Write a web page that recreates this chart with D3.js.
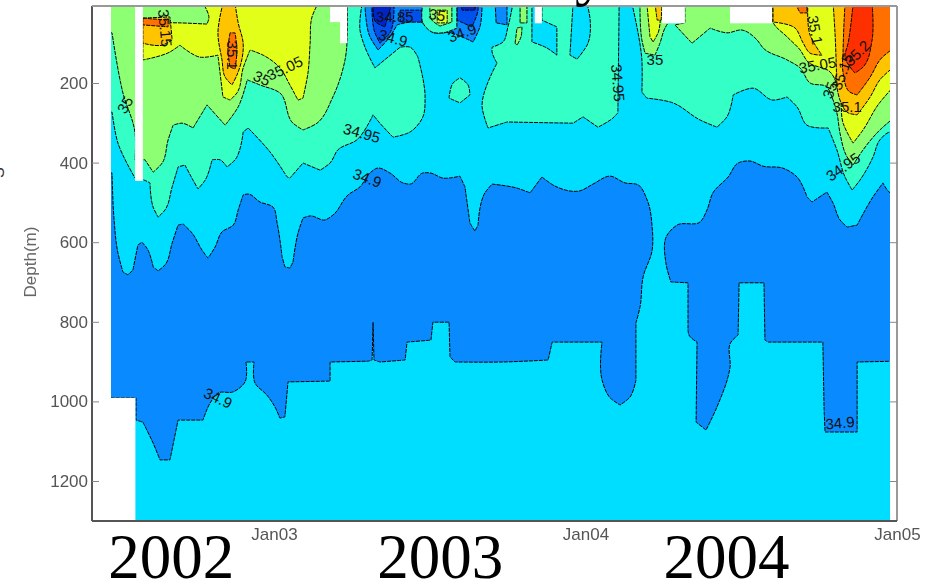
<!DOCTYPE html>
<html>
<head>
<meta charset="utf-8">
<script src="https://cdn.jsdelivr.net/npm/d3@7"></script>
<style>
  html, body { margin: 0; padding: 0; background: #fff; overflow: hidden; }
  svg { display: block; }
</style>
</head>
<body>
<div id="chart"></div>
<script>
// time is in years since Jan 2002, depth in metres
var depthTicks = [200, 400, 600, 800, 1000, 1200];
var timeTicks = [1, 2, 3];
var timeTickLabels = ["Jan03", "Jan04", "Jan05"];
var yearLabels = ["2002", "2003", "2004"];
var yearLabelTimes = [0.670, 1.534, 2.453];

var blueMain = [[.457,426],[.480,426],[.486,537],[.499,627],[.515,675],[.531,682],[.547,670],[.563,607],[.576,600],[.592,615],[.612,662],[.628,672],[.650,657],[.673,602],[.692,557],[.708,554],[.737,577],[.769,620],[.788,640],[.811,612],[.833,574],[.869,557],[.885,519],[.901,481],[.917,479],[.955,499],[.997,512],[1.010,552],[1.026,637],[1.035,662],[1.051,665],[1.061,650],[1.077,577],[1.093,539],[1.116,534],[1.164,544],[1.189,532],[1.238,481],[1.276,461],[1.308,426],[1.331,414],[1.372,426],[1.414,451],[1.437,454],[1.478,426],[1.501,426],[1.543,439],[1.597,434],[1.613,461],[1.629,552],[1.645,572],[1.655,557],[1.677,476],[1.700,454],[1.780,464],[1.822,476],[1.860,436],[1.902,459],[1.982,471],[2.024,454],[2.079,434],[2.127,451],[2.169,456],[2.198,494],[2.214,562],[2.214,620],[2.185,687],[2.175,763],[2.162,803],[2.162,946],[2.143,989],[2.111,1009],[2.079,991],[2.053,946],[2.053,851],[1.893,851],[1.880,896],[1.735,901],[1.581,901],[1.565,888],[1.562,801],[1.510,801],[1.504,846],[1.427,851],[1.421,896],[1.340,901],[1.321,896],[1.318,801],[1.315,896],[1.302,899],[1.180,901],[1.180,949],[1.045,951],[1.035,1039],[1.019,1042],[1.003,1014],[.977,984],[.939,954],[.936,901],[.910,901],[.907,951],[.869,976],[.820,979],[.795,1004],[.772,1047],[.692,1047],[.666,1147],[.634,1147],[.612,1105],[.579,1052],[.557,1047],[.557,991],[.457,991]];
var blueRight = [[2.994,481],[2.978,476],[2.955,451],[2.923,486],[2.872,557],[2.840,562],[2.817,544],[2.795,502],[2.775,474],[2.727,499],[2.711,486],[2.679,436],[2.634,414],[2.570,409],[2.528,396],[2.490,401],[2.458,436],[2.409,476],[2.390,519],[2.368,549],[2.294,557],[2.262,582],[2.258,652],[2.274,700],[2.329,702],[2.329,821],[2.332,833],[2.358,851],[2.355,1052],[2.387,1072],[2.422,1014],[2.464,914],[2.467,851],[2.490,833],[2.493,702],[2.573,702],[2.576,846],[2.586,851],[2.762,851],[2.766,1022],[2.769,1077],[2.872,1077],[2.872,901],[2.994,899]];

var mintLeft = [[.457,0],[.457,273],[.480,273],[.499,351],[.554,439],[.583,444],[.602,451],[.612,512],[.628,537],[.650,519],[.673,461],[.692,411],[.714,406],[.740,444],[.756,466],[.779,444],[.801,393],[.827,393],[.849,411],[.875,393],[.901,323],[.917,313],[.987,373],[1.042,436],[1.051,439],[1.093,401],[1.148,419],[1.180,401],[1.205,368],[1.266,343],[1.318,280],[1.340,301],[1.382,336],[1.437,323],[1.478,285],[1.485,235],[1.462,135],[1.437,110],[1.405,110],[1.324,162],[1.292,110],[1.276,67],[1.283,0]];
var mintIsle = [[1.597,187],[1.623,205],[1.629,230],[1.597,250],[1.562,238],[1.575,200]];
var mintMiddle = [[1.767,0],[1.751,59],[1.735,97],[1.700,110],[1.700,122],[1.716,150],[1.668,260],[1.687,313],[1.748,298],[1.960,301],[1.992,285],[2.040,311],[2.088,288],[2.104,275],[2.108,0]];
var mintRight = [[2.149,0],[2.181,142],[2.181,223],[2.197,238],[2.281,250],[2.368,293],[2.422,311],[2.454,285],[2.474,230],[2.538,213],[2.602,243],[2.647,235],[2.679,260],[2.711,306],[2.779,313],[2.807,368],[2.833,436],[2.856,469],[2.881,444],[2.923,386],[2.945,343],[2.978,323],[2.994,323],[2.994,0]];
var cyanIsleA = [[1.828,0],[1.828,97],[1.876,112],[1.908,130],[1.908,59],[1.860,42],[1.860,0]];
var cyanIsleB = [[1.960,0],[1.950,130],[1.973,140],[2.008,100],[2.015,42],[2.005,0]];
var cyanCorner = [[.457,0],[.528,0],[.506,29],[.457,29]];
var blueCorner = [[.457,0],[.512,0],[.499,19],[.457,19]];

var limeLeft = [[.457,0],[.457,74],[.480,74],[.515,225],[.554,326],[.554,393],[.586,393],[.612,424],[.641,401],[.660,343],[.676,306],[.705,301],[.740,313],[.785,255],[.843,306],[.885,260],[.914,192],[.955,205],[1.019,225],[1.061,301],[1.093,318],[1.138,301],[1.189,235],[1.228,142],[1.235,0]];
var limeBarTop = [[1.790,0],[1.790,49],[1.812,49],[1.812,0]];
var limeBarLow = [[1.774,100],[1.780,62],[1.796,59],[1.793,84],[1.780,105]];
var limeV = [[2.175,0],[2.181,92],[2.191,125],[2.223,130],[2.239,100],[2.255,62],[2.265,49],[2.265,0]];
var limeRight = [[2.319,0],[2.319,49],[2.287,54],[2.342,100],[2.400,62],[2.454,74],[2.503,67],[2.551,92],[2.570,112],[2.647,142],[2.689,162],[2.721,200],[2.775,210],[2.791,235],[2.807,275],[2.817,326],[2.840,386],[2.859,406],[2.891,368],[2.945,318],[2.994,285],[2.994,0]];

var yellowLeft = [[.579,49],[.698,49],[.785,52],[.791,37],[.772,0],[1.141,0],[1.122,34],[1.116,100],[1.109,175],[1.093,238],[1.077,243],[1.051,205],[1.019,162],[.965,130],[.923,117],[.901,162],[.881,225],[.859,243],[.836,235],[.820,130],[.762,135],[.698,105],[.666,122],[.579,142]];
var yellowV = [[2.197,0],[2.207,84],[2.217,97],[2.233,74],[2.239,0]];
var yellowRight = [[2.602,0],[2.602,47],[2.647,84],[2.689,117],[2.714,147],[2.785,172],[2.817,235],[2.827,301],[2.859,351],[2.891,318],[2.939,255],[2.994,205],[2.994,0]];

var amberBlock = [[.579,37],[.666,34],[.673,92],[.641,105],[.579,100]];
var amberColumn = [[.836,0],[.820,74],[.833,142],[.843,185],[.865,205],[.881,180],[.901,100],[.885,49],[.875,0]];
var amberV = [[2.223,0],[2.230,42],[2.243,42],[2.246,0]];
var amberRightA = [[2.602,0],[2.602,47],[2.673,62],[2.699,100],[2.721,125],[2.759,130],[2.721,80],[2.714,0]];
var amberRightB = [[2.795,0],[2.801,74],[2.807,210],[2.817,243],[2.843,275],[2.872,280],[2.914,235],[2.945,192],[2.994,157],[2.994,0]];

var orangeBlock = [[.579,37],[.660,42],[.660,59],[.579,54]];
var orangeColumn = [[.859,74],[.852,117],[.859,160],[.875,165],[.881,117],[.875,74]];
var orangeTip = [[2.673,0],[2.689,24],[2.711,24],[2.711,0]];
var orangeRight = [[2.833,0],[2.827,117],[2.827,175],[2.849,223],[2.872,230],[2.914,185],[2.945,142],[2.994,105],[2.994,0]];
var redRight = [[2.859,0],[2.843,100],[2.833,135],[2.865,175],[2.891,160],[2.920,92],[2.920,0]];

// the fresh patch along the surface in 2003
var blueTop = [[1.292,0],[1.308,84],[1.334,117],[1.372,84],[1.395,54],[1.478,49],[1.507,72],[1.565,74],[1.639,97],[1.661,59],[1.668,0]];
var blueTopSmall = [[1.710,0],[1.713,49],[1.748,54],[1.748,0]];
var royalA = [[1.314,0],[1.324,74],[1.340,100],[1.372,74],[1.385,0]];
var royalB = [[1.405,17],[1.475,17],[1.475,47],[1.405,47]];
var royalC = [[1.587,0],[1.587,42],[1.635,59],[1.655,17],[1.655,0]];
var navyA = [[1.318,0],[1.327,47],[1.356,59],[1.372,17],[1.379,0]];
var navyB = [[1.597,0],[1.604,17],[1.645,17],[1.648,0]];
var mintTop = [[1.478,0],[1.478,49],[1.507,72],[1.543,74],[1.587,62],[1.587,0]];
var limeTop = [[1.501,0],[1.507,42],[1.533,57],[1.571,47],[1.571,0]];
var yellowTop = [[1.524,17],[1.556,17],[1.556,49],[1.524,49]];

// blocks with no data: [t0, t1, depth0, depth1]
var gapBlocks = [[.554,.579,0,446],[.470,.555,991,1300],[1.180,1.212,0,47],[1.212,1.235,0,100],[1.837,1.860,0,50],[2.246,2.319,0,50],[2.464,2.599,0,50]];

// contour labels: t, depth, text, angle
var labelTimes = [.522,.650,.865,.961,1.035,1.282,1.299,1.382,1.388,1.524,1.604,2.104,2.223,2.745,2.737,2.785,2.824,2.872,2.840,2.827,.820,2.817];
var labelDepths = [255,62,130,188,163,326,439,87,34,29,74,200,142,155,67,218,172,125,260,411,992,1054];
var labelTexts = ["35","35.15","35.1","35","35.05","34.95","34.9","34.9","34.85","35","34.9","34.95","35","35.05","35.1","35","35.15","35.2","35.1","34.95","34.9","34.9"];
var labelAngles = [-60,85,90,25,-25,15,20,15,0,10,-20,85,0,-10,80,-70,-70,-45,0,-35,25,-5];

var bandColors = {
  navy: "#0024c8", royal: "#0050ee", blue: "#0a8aff", cyan: "#00deff", mint: "#33ffc6",
  lime: "#8cff73", yellow: "#e2ff1a", amber: "#ffc400", orange: "#ff7000", red: "#ff3000"
};

var svgWidth = 932;
var svgHeight = 582;

var svg = d3.select("#chart")
  .append("svg")
  .attr("width", svgWidth)
  .attr("height", svgHeight);

var xScale = d3.scaleLinear().domain([0.4157, 3]).range([92, 897]);
var yScale = d3.scaleLinear().domain([0, 1300]).range([3.4, 520.8]);

svg.append("clipPath").attr("id", "dataClip")
  .append("rect")
  .attr("x", 111)
  .attr("y", 7)
  .attr("width", 779)
  .attr("height", 514);

var chart = svg.append("g").style("filter", "blur(0.7px)");
var plot = chart.append("g").attr("clip-path", "url(#dataClip)");

plot.append("rect")
  .attr("x", 100).attr("y", 0)
  .attr("width", 800).attr("height", 530)
  .attr("fill", bandColors.cyan);

var line = d3.line()
  .x(d => xScale(d[0]))
  .y(d => yScale(d[1]))
  .curve(d3.curveCatmullRomClosed.alpha(1));

// a vertex listed twice stays a hard corner in the spline, so the stepped
// parts of the contours stay square while the wiggles get rounded.
// a long run next to a short one also counts, it would bulge otherwise
function keepCorners(points) {
  var out = [];
  var n = points.length;
  points.forEach(function(p, i) {
    var a = points[(i + n - 1) % n];
    var b = points[(i + 1) % n];
    var ux = xScale(p[0]) - xScale(a[0]), uy = yScale(p[1]) - yScale(a[1]);
    var vx = xScale(b[0]) - xScale(p[0]), vy = yScale(b[1]) - yScale(p[1]);
    var turn = Math.abs(Math.atan2(ux * vy - uy * vx, ux * vx + uy * vy));
    var lenA = Math.hypot(ux, uy), lenB = Math.hypot(vx, vy);
    var ratio = Math.max(lenA, lenB) / Math.min(lenA, lenB);
    out.push(p);
    if (turn > 0.95 || ratio > 3) out.push(p);
  });
  return out;
}

// painted from the lowest salinity band up, later layers sit on top
var layers = [
  [mintLeft, "mint"], [mintMiddle, "mint"], [mintRight, "mint"],
  [cyanIsleA, "cyan"], [cyanIsleB, "cyan"], [mintIsle, "mint"], [cyanCorner, "cyan"], [blueCorner, "blue"],
  [limeLeft, "lime"], [limeBarTop, "lime"], [limeBarLow, "lime"], [limeV, "lime"], [limeRight, "lime"],
  [yellowLeft, "yellow"], [yellowV, "yellow"], [yellowRight, "yellow"],
  [amberBlock, "amber"], [amberColumn, "amber"], [amberV, "amber"], [amberRightA, "amber"], [amberRightB, "amber"],
  [orangeBlock, "orange"], [orangeColumn, "orange"], [orangeTip, "orange"], [orangeRight, "orange"], [redRight, "red"],
  [blueMain, "blue"], [blueRight, "blue"],
  [blueTop, "blue"], [blueTopSmall, "blue"], [royalA, "royal"], [royalB, "royal"], [royalC, "royal"],
  [navyA, "navy"], [navyB, "navy"], [mintTop, "mint"], [limeTop, "lime"], [yellowTop, "yellow"]
];

plot.selectAll("path.band")
  .data(layers)
  .enter()
  .append("path")
  .attr("class", "band")
  .attr("d", d => line(keepCorners(d[0])))
  .attr("fill", d => bandColors[d[1]])
  .attr("stroke", "#000")
  .attr("stroke-width", 1)
  .attr("stroke-dasharray", "4 1");

// contour labels
plot.selectAll("text.contour")
  .data(labelTexts)
  .enter()
  .append("text")
  .attr("class", "contour")
  .attr("transform", (d, i) => `translate(${xScale(labelTimes[i])},${yScale(labelDepths[i])}) rotate(${labelAngles[i]})`)
  .attr("text-anchor", "middle")
  .attr("dy", "0.35em")
  .attr("font-family", "Liberation Sans")
  .attr("font-size", 15)
  .attr("fill", "#111")
  .text(d => d);

// no-data blocks go outside the clip so no cyan fringe shows at the edge
chart.selectAll("rect.gap")
  .data(gapBlocks)
  .enter()
  .append("rect")
  .attr("class", "gap")
  .attr("x", d => xScale(d[0]))
  .attr("y", d => yScale(d[2]))
  .attr("width", d => xScale(d[1]) - xScale(d[0]))
  .attr("height", d => yScale(d[3]) - yScale(d[2]))
  .attr("fill", "#fff");

// frame and axes
var leftAxis = d3.axisLeft(yScale).tickValues(depthTicks).tickSize(-7).tickPadding(4).tickFormat(d3.format("d"));
var rightAxis = d3.axisRight(yScale).tickValues(depthTicks).tickSize(-7).tickFormat("");
var bottomAxis = d3.axisBottom(xScale).tickValues(timeTicks).tickSize(0).tickPadding(7)
  .tickFormat((d, i) => timeTickLabels[i]);

var leftG = chart.append("g").attr("transform", "translate(92,0)").call(leftAxis);
var rightG = chart.append("g").attr("transform", "translate(897,0)").call(rightAxis);
var bottomG = chart.append("g").attr("transform", "translate(0,521)").call(bottomAxis);

leftG.select(".domain").attr("stroke", "#555").attr("stroke-width", 2).attr("d", "M0,6V521");
rightG.select(".domain").attr("stroke", "#999").attr("stroke-width", 2).attr("d", "M0,6V521");
bottomG.select(".domain").attr("stroke", "#555").attr("stroke-width", 2).attr("d", "M92,0H897");
leftG.selectAll(".tick line").attr("stroke", "#888");
rightG.selectAll(".tick line").attr("stroke", "#888");

chart.selectAll("g.tick text")
  .attr("font-family", "Liberation Sans")
  .attr("font-size", 17)
  .attr("fill", "#555");

chart.append("line")
  .attr("x1", 92).attr("x2", 897)
  .attr("y1", 6).attr("y2", 6)
  .attr("stroke", "#999")
  .attr("stroke-width", 2);

chart.append("text")
  .attr("transform", "translate(36,262) rotate(-90)")
  .attr("text-anchor", "middle")
  .attr("font-family", "Liberation Sans")
  .attr("font-size", 17)
  .attr("fill", "#666")
  .text("Depth(m)");

// big year captions and the cut-off pieces of the slide text stay sharp
svg.selectAll("text.year")
  .data(yearLabels)
  .enter()
  .append("text")
  .attr("class", "year")
  .attr("x", (d, i) => xScale(yearLabelTimes[i]))
  .attr("y", 578)
  .attr("text-anchor", "middle")
  .attr("font-family", "Liberation Serif")
  .attr("font-size", 63)
  .attr("fill", "#000")
  .text(d => d);

svg.append("text")
  .attr("x", 575)
  .attr("y", -7)
  .attr("font-family", "Liberation Serif")
  .attr("font-size", 63)
  .attr("fill", "#000")
  .text("y");

svg.append("text")
  .attr("transform", "translate(4,178) rotate(-90)")
  .attr("font-family", "Liberation Sans")
  .attr("font-size", 16)
  .attr("fill", "#333")
  .text("S");
</script>
</body>
</html>
